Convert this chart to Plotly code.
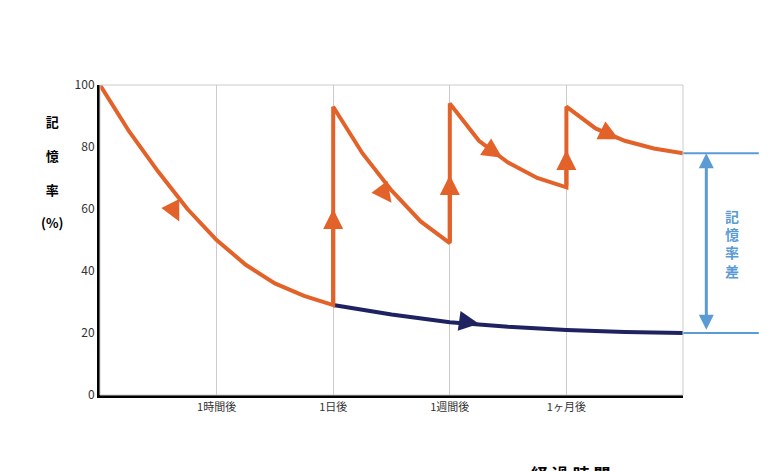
import plotly.graph_objects as go

seg1_x=[0,0.25,0.5,0.75,1,1.25,1.5,1.75,2]; seg1_y=[100,85,72,60,50,42,36,32,29]
seg2_x=[2,2.25,2.5,2.75,3]; seg2_y=[93,78,66,56,49]
seg3_x=[3,3.25,3.5,3.75,4]; seg3_y=[94,82,75,70,67]
seg4_x=[4,4.25,4.5,4.75,5]; seg4_y=[93,86,82,79.5,78]
navy_x=[2,2.5,3,3.5,4,4.5,5]; navy_y=[29,26,23.5,22,21,20.3,20]
tick_pos=[1,2,3,4]; tick_text=["1時間後","1日後","1週間後","1ヶ月後"]
review_x=[2,3,4]

OR="#e2622a"; NV="#1f2260"; BL="#5b9bd5"
F="Noto Sans CJK JP"
fig=go.Figure()
ox=seg1_x+seg2_x+seg3_x+seg4_x
oy=seg1_y+seg2_y+seg3_y+seg4_y
fig.add_trace(go.Scatter(x=navy_x,y=navy_y,mode="lines",line=dict(color=NV,width=4)))
fig.add_trace(go.Scatter(x=ox,y=oy,mode="lines",line=dict(color=OR,width=4)))
ah=[(0.6,62,0.68,56,OR),(2.42,66,2.5,62,OR),(3.35,79,3.45,76.5,OR),(4.3,85.3,4.45,82.5,OR),(3.1,23.8,3.25,23,NV)]
for x0,y0,x1,y1,c in ah:
    fig.add_annotation(x=x1,y=y1,ax=x0,ay=y0,axref="x",ayref="y",xref="x",yref="y",showarrow=True,arrowhead=2,arrowsize=1,arrowwidth=4,arrowcolor=c,text="")
for rx,lo,hi in zip(review_x,[29,49,67],[60,71,79]):
    fig.add_annotation(x=rx,y=hi,ax=rx,ay=lo,axref="x",ayref="y",showarrow=True,arrowhead=2,arrowsize=1,arrowwidth=4,arrowcolor=OR,text="")
    fig.add_annotation(x=rx,y=104,yref="y",text="▼",showarrow=False,font=dict(color=OR,size=22,family=F))
    fig.add_annotation(x=rx,y=112,yref="y",text="<b>復習</b>",showarrow=False,font=dict(color=OR,size=15,family=F))
for yv in [78,20]:
    fig.add_shape(type="line",xref="paper",x0=1,x1=1.13,y0=yv,y1=yv,line=dict(color=BL,width=2))
fig.add_annotation(xref="paper",x=1.04,y=78,ax=0,ay=178,axref="pixel",ayref="pixel",showarrow=True,arrowhead=2,startarrowhead=2,arrowside="end+start",arrowwidth=3,arrowsize=1,arrowcolor=BL,text="")
fig.add_annotation(xref="paper",x=1.1,y=49,text="<b>記<br>憶<br>率<br>差</b>",showarrow=False,font=dict(color=BL,size=14,family=F))
fig.add_annotation(xref="paper",x=-0.105,y=72,text="<b>記<br><br>憶<br><br>率<br><br>(%)</b>",showarrow=False,font=dict(color="black",size=13,family=F))
fig.add_annotation(xref="paper",yref="paper",x=0.88,y=-0.3,text="<b>経 過 時 間</b>",showarrow=False,font=dict(color="black",size=17,family=F))
fig.add_shape(type="rect",xref="paper",yref="paper",x0=0,x1=1,y0=0,y1=1,line=dict(color="#cccccc",width=1))
fig.update_xaxes(range=[0,5],tickvals=tick_pos,ticktext=tick_text,showgrid=True,gridcolor="#cccccc",
    showline=True,linecolor="black",linewidth=3,zeroline=False,ticks="",tickfont=dict(size=11,family=F,color="#333"))
fig.update_yaxes(range=[0,100],tickvals=[0,20,40,60,80,100],showgrid=False,showline=True,linecolor="black",linewidth=3,
    zeroline=False,ticks="",tickfont=dict(size=12,family=F,color="#333"))
fig.update_layout(width=774,height=471,margin=dict(l=92,r=99,t=77,b=84),showlegend=False,
    plot_bgcolor="white",paper_bgcolor="white")
fig.write_html("out.html")
